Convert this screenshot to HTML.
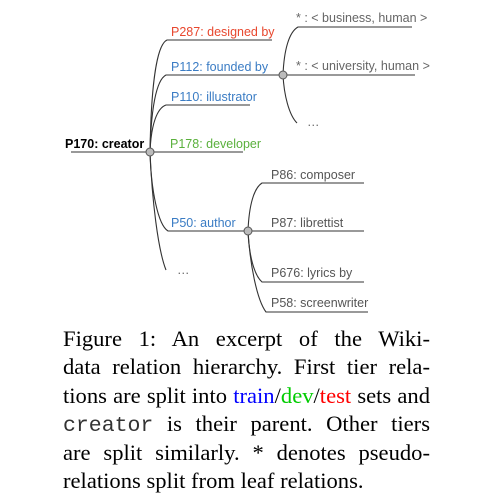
<!DOCTYPE html>
<html><head><meta charset="utf-8"><style>
body{margin:0;background:#fff;width:500px;height:500px;overflow:hidden;position:relative}
svg{display:block;position:absolute;left:0;top:0}
.s{font-family:"Liberation Sans",sans-serif;font-size:12.5px}
#cap{position:absolute;left:63px;top:325px;width:367px;font-family:"Liberation Serif",serif;font-size:22.6px;color:#000}
#cap div{height:28.4px;line-height:28.4px;white-space:nowrap;text-align:justify;text-align-last:justify}
#cap div.last{text-align-last:left}
.m{font-family:"Liberation Mono",monospace;font-size:21.5px;color:#333}
</style></head><body>
<svg width="500" height="500">
<g fill="none" stroke="#333" stroke-width="1.1">
<path d="M71,152 L243,152"/>
<path d="M150,152 C151,90 156,45 167,40 L272,40"/>
<path d="M150,152 C151,110 156,80 166,75 L283,75"/>
<path d="M150,152 C151,125 157,108 166,105 L250,105"/>
<path d="M150,152 C151,190 158,225 168,231 L248,231"/>
<path d="M150,152 C152,200 158,250 166,270"/>
<path d="M283,75 C284,50 289,32 298,27 L412,27"/>
<path d="M283,75 L415,75"/>
<path d="M283,75 C284,95 289,115 297,123"/>
<path d="M248,231 C249,205 254,188 262,183 L364,183"/>
<path d="M248,231 L364,231"/>
<path d="M248,231 C249,255 254,275 262,282 L364,282"/>
<path d="M248,231 C250,265 257,300 266,312 L368,312"/>
</g>
<g fill="#bbb" stroke="#555" stroke-width="1">
<circle cx="150" cy="152" r="4"/>
<circle cx="283" cy="75" r="4"/>
<circle cx="248" cy="231" r="4"/>
</g>
<text class="s" x="65" y="148" font-weight="bold" fill="#000">P170: creator</text>
<text class="s" x="171" y="36" fill="#e8472e">P287: designed by</text>
<text class="s" x="171" y="71" fill="#3a7cc4">P112: founded by</text>
<text class="s" x="171" y="101" fill="#3a7cc4">P110: illustrator</text>
<text class="s" x="170" y="148" fill="#5ab03c">P178: developer</text>
<text class="s" x="171" y="227" fill="#3a7cc4">P50: author</text>
<text class="s" x="177" y="274" fill="#666">…</text>
<text class="s" x="296" y="22" fill="#666">* : &lt; business, human &gt;</text>
<text class="s" x="296" y="70" fill="#666">* : &lt; university, human &gt;</text>
<text class="s" x="307" y="126" fill="#666">…</text>
<text class="s" x="271" y="179" fill="#555">P86: composer</text>
<text class="s" x="271" y="227" fill="#555">P87: librettist</text>
<text class="s" x="271" y="277" fill="#555">P676: lyrics by</text>
<text class="s" x="271" y="307" fill="#555">P58: screenwriter</text>
</svg>
<div id="cap">
<div>Figure 1:  An excerpt of the Wiki-</div>
<div>data relation hierarchy.  First tier rela-</div>
<div>tions are split into <span style="color:#0000ff">train</span>/<span style="color:#00cc00">dev</span>/<span style="color:#ff0000">test</span> sets and</div>
<div><span class="m">creator</span> is their parent.  Other tiers</div>
<div>are split similarly.  * denotes pseudo-</div>
<div class="last">relations split from leaf relations.</div>
</div>
</body></html>
